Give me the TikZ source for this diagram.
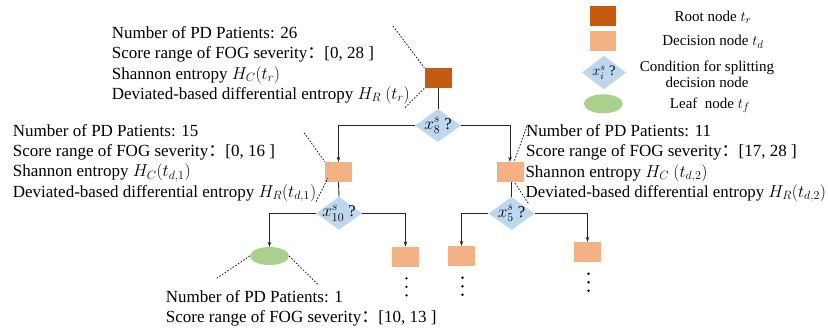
\documentclass[tikz,border=0pt]{standalone}
\usepackage{fontspec}
\setmainfont{Liberation Serif}
\newfontfamily\cjkfont{Noto Sans CJK SC}
\usetikzlibrary{shapes.geometric,arrows.meta,calc}
\definecolor{rootc}{HTML}{C55A11}
\definecolor{decc}{HTML}{F4B183}
\definecolor{condc}{HTML}{BDD7EE}
\definecolor{leafc}{HTML}{A9D18E}
\definecolor{linec}{HTML}{262626}
\newcommand{\fcolon}{{\cjkfont ：}}
\begin{document}
\begin{tikzpicture}[x=1pt,y=-1pt,
  font=\fontsize{17}{20}\selectfont,
  rootbox/.style={fill=rootc, minimum width=27pt, minimum height=20pt, inner sep=0, draw=none},
  decbox/.style={fill=decc, minimum width=27pt, minimum height=20pt, inner sep=0, draw=none},
  condbox/.style={diamond, fill=condc, minimum width=46pt, minimum height=33pt, inner sep=0, draw=none},
  condtext/.style={inner sep=0, font=\fontsize{16.5}{18}\selectfont},
  leafbox/.style={ellipse, fill=leafc, minimum width=39pt, minimum height=18pt, inner sep=0, draw=none},
  conn/.style={draw=linec, line width=0.9pt},
  arr/.style={conn, -{Stealth[length=5pt,width=3.6pt]}},
  dotline/.style={draw=black, line width=0.7pt, dash pattern=on 1.6pt off 1.6pt},
  txt/.style={anchor=base west, inner sep=0},
  legtxt/.style={inner sep=0, align=center, font=\fontsize{15}{16}\selectfont},
  dotdot/.style={fill=black}
]
\fill[white] (0,0) rectangle (828,333);
\useasboundingbox (0,0) rectangle (828,333);

% ---------------- tree nodes ----------------
\node[rootbox] (r) at (438,78) {};
\node[condbox] (c1) at (438,125.5) {};
\node[condtext] (c1t) at (c1) {$x_8^s$ ?};
\node[decbox] (b1) at (338.5,172) {};
\node[decbox] (b2) at (510,172) {};
\node[condbox] (c2) at (339,213.3) {};
\node[condtext] (c2t) at (c2) {$x_{10}^s$ ?};
\node[condbox] (c3) at (511.5,213.5) {};
\node[condtext] (c3t) at (c3) {$x_5^s$ ?};
\node[leafbox] (lf) at (269.5,256) {};
\node[decbox] (b3) at (405.5,256.7) {};
\node[decbox] (b4) at (461.5,256) {};
\node[decbox] (b5) at (587.5,252) {};

% connectors
\draw[conn] (r.south) -- (c1.north);
\draw[arr] (c1.west) -| (b1.north);
\draw[arr] (c1.east) -| (b2.north);
\draw[conn] (b1.south) -- (c2.north);
\draw[conn] (b2.south -| c3.north) -- (c3.north);
\draw[arr] (c2.west) -| (lf.north);
\draw[arr] (c2.east) -| (b3.north);
\draw[arr] (c3.west) -| (b4.north);
\draw[arr] (c3.east) -| (b5.north);

% vertical dots
\foreach \b in {b3,b4,b5}{
  \foreach \d in {11.5,20,28.5}{
    \fill[dotdot] ($(\b.south)+(1,\d)$) circle[radius=1.3pt];
  }
}

% ---------------- text blocks ----------------
\node[txt] (ta1) at (111.7,38.5) {Number of PD Patients: 26};
\node[txt] (ta2) at (111.7,58.8) {Score range of FOG severity\fcolon [0, 28 ]};
\node[txt] (ta3) at (111.7,79.1) {Shannon entropy $H_C(t_r)$};
\node[txt] (ta4) at (111.7,99.4) {Deviated-based differential entropy $H_R$ $(t_r)$};

\node[txt] (tb1) at (12.7,136) {Number of PD Patients: 15};
\node[txt] (tb2) at (12.7,156.3) {Score range of FOG severity\fcolon [0, 16 ]};
\node[txt] (tb3) at (12.7,176.8) {Shannon entropy $H_C(t_{d,1})$};
\node[txt] (tb4) at (12.7,197) {Deviated-based differential entropy $H_R(t_{d,1})$};

\node[txt] (tc1) at (526,136.5) {Number of PD Patients: 11};
\node[txt] (tc2) at (526,156.7) {Score range of FOG severity\fcolon [17, 28 ]};
\node[txt] (tc3) at (525.3,177) {Shannon entropy $H_C$ $(t_{d,2})$};
\node[txt, font=\fontsize{16.8}{20}\selectfont] (tc4) at (525.5,197) {Deviated-based differential entropy $H_R(t_{d,2})$};

\node[txt] (td1) at (165.7,302) {Number of PD Patients: 1};
\node[txt] (td2) at (165.7,322.5) {Score range of FOG severity\fcolon [10, 13 ]};

% dotted call-out lines
\coordinate (pa1) at (393,26);
\coordinate (pa2) at (405,107.5);
\draw[dotline] (pa1) -- (r.north west);
\draw[dotline] (pa2) -- (r.south west);
\coordinate (pb1) at (304,132.7);
\coordinate (pb2) at (316,201.7);
\draw[dotline] (pb1) -- (b1.north west);
\draw[dotline] (pb2) -- ($(b1.south west)+(3,-4)$);
\coordinate (pc1) at (527,126);
\coordinate (pc2) at (528.3,203.3);
\draw[dotline] (pc1) -- ($(b2.north)+(4,0)$);
\draw[dotline] ($(b2.south)+(5,1)$) -- (pc2);
\coordinate (pd1) at (216.7,278.3);
\coordinate (pd2) at (318.3,285);
\draw[dotline] (pd1) -- (lf.west);
\draw[dotline] (lf.east) -- (pd2);

% ---------------- legend ----------------
\node[rootbox, minimum width=26pt] (lr) at (603,16) {};
\node[decbox, minimum width=26pt] (ld) at (603,41) {};
\node[condbox, minimum width=44pt, minimum height=34pt] (lc) at (604,72.5) {};
\node[condtext, font=\fontsize{14.5}{16}\selectfont] (lct) at (lc) {$x_i^s$ ?};
\node[leafbox, minimum height=19pt] (ll) at (603.3,103.8) {};

\node[legtxt] (lrt) at (713,17) {Root node $t_r$};
\node[legtxt] (ldt) at (713,41.7) {Decision node $t_d$};
\node[legtxt] (lctx) at (707,74.7) {Condition for splitting\\decision node};
\node[legtxt] (llt) at (710,105.3) {Leaf\ \ node $t_f$};
\end{tikzpicture}
\end{document}
